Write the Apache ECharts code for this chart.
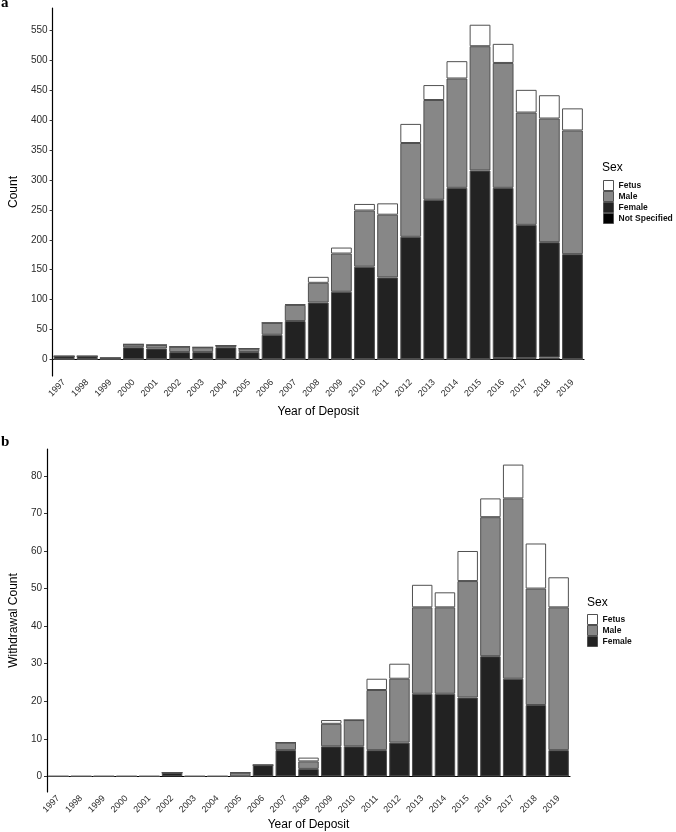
<!DOCTYPE html>
<html>
<head>
<meta charset="utf-8">
<script src="https://cdn.jsdelivr.net/npm/echarts@6/dist/echarts.min.js"></script>
<style>
html,body{margin:0;padding:0;background:#fff;}
#c{width:676px;height:832px;}
</style>
</head>
<body>
<div id="c"></div>
<script>
const years = ['1997','1998','1999','2000','2001','2002','2003','2004','2005','2006','2007','2008','2009','2010','2011','2012','2013','2014','2015','2016','2017','2018','2019'];

// Panel a: deposits by sex
const depNotSpecified = [0,0,0,0,0,0,0,0,0,0,0,0,0,0,0,0,0,0,0,2,2,3,0];
const depFemale = [5,5,2,20,18,12,12,20,12,41,64,95,113,155,137,205,267,287,316,285,223,193,176];
const depMale   = [0,0,0,5,6,9,8,3,6,20,27,33,64,94,105,157,167,183,208,209,188,207,207];
const depFetus  = [0,0,0,0,0,0,0,0,0,0,1,10,10,11,19,32,25,29,36,32,38,39,37];

// Panel b: withdrawals by sex
const wdFemale = [0,0,0,0,0,1,0,0,0,3,7,2,8,8,7,9,22,22,21,32,26,19,7];
const wdMale   = [0,0,0,0,0,0,0,0,1,0,2,2,6,7,16,17,23,23,31,37,48,31,38];
const wdFetus  = [0,0,0,0,0,0,0,0,0,0,0,1,1,0,3,4,6,4,8,5,9,12,8];

const depTicks = [0,50,100,150,200,250,300,350,400,450,500,550];
const wdTicks = [0,10,20,30,40,50,60,70,80];

const colors = {'Fetus':'#ffffff','Male':'#878787','Female':'#222222','Not Specified':'#000000'};
const border = '#505050';
const font = 'Liberation Sans, Arial, sans-serif';

function bar(name, data, idx, stack) {
  return {
    type:'bar', name:name, data:data, stack:stack,
    xAxisIndex:idx, yAxisIndex:idx,
    barCategoryGap:'10%',
    itemStyle:{color:colors[name], borderColor:border, borderWidth:1},
    emphasis:{disabled:true},
    animation:false
  };
}

function xAxis(idx, gap) {
  return {
    type:'category', gridIndex:idx, data:years,
    name:'Year of Deposit', nameLocation:'middle', nameGap:gap,
    nameTextStyle:{fontFamily:font, fontSize:12, color:'#000'},
    axisLine:{lineStyle:{color:'#000', width:1.2}},
    axisTick:{alignWithLabel:true, length:3, lineStyle:{color:'#333'}},
    axisLabel:{rotate:45, interval:0, fontFamily:font, fontSize:9, color:'#2a2a2a', margin:5}
  };
}

function yAxis(idx, min, max, ticks, name, gap) {
  return {
    type:'value', gridIndex:idx, min:min, max:max,
    name:name, nameLocation:'middle', nameGap:gap,
    nameTextStyle:{fontFamily:font, fontSize:12, color:'#000'},
    axisLine:{show:true, lineStyle:{color:'#000', width:1.2}},
    axisTick:{show:true, length:3, customValues:ticks, lineStyle:{color:'#333'}},
    axisLabel:{customValues:ticks, fontFamily:font, fontSize:10, color:'#2a2a2a', margin:5},
    splitLine:{show:false}
  };
}

const serif = 'Liberation Serif, Times New Roman, serif';
const chart = echarts.init(document.getElementById('c'), null, {renderer:'canvas'});
chart.setOption({
  backgroundColor:'#fff',
  animation:false,
  title:[
    {text:'a', left:1, top:-4, padding:0, textStyle:{fontFamily:serif, fontWeight:'bold', fontSize:15, color:'#000'}},
    {text:'b', left:1, top:435, padding:0, textStyle:{fontFamily:serif, fontWeight:'bold', fontSize:15, color:'#000'}},
    {text:'Sex', left:602, top:162, padding:0, textStyle:{fontFamily:font, fontWeight:'normal', fontSize:12, color:'#000'}},
    {text:'Sex', left:587, top:597, padding:0, textStyle:{fontFamily:font, fontWeight:'normal', fontSize:12, color:'#000'}}
  ],
  legend:[
    {data:['Fetus','Male','Female','Not Specified'], orient:'vertical', left:603, top:180, padding:0,
     itemWidth:10, itemHeight:10, itemGap:0, icon:'rect', selectedMode:false,
     itemStyle:{borderColor:border, borderWidth:1},
     textStyle:{fontFamily:font, fontSize:8.5, fontWeight:'bold', color:'#111', lineHeight:10}},
    {data:['Fetus','Male','Female'], orient:'vertical', left:587, top:614, padding:0,
     itemWidth:10, itemHeight:10, itemGap:0, icon:'rect', selectedMode:false,
     itemStyle:{borderColor:border, borderWidth:1},
     textStyle:{fontFamily:font, fontSize:8.5, fontWeight:'bold', color:'#111', lineHeight:10}}
  ],
  grid:[
    {left:43, right:92, top:8, bottom:456},
    {left:35, right:106, top:449, bottom:40}
  ],
  xAxis:[xAxis(0, 30), xAxis(1, 27)],
  yAxis:[
    yAxis(0, -28, 588, depTicks, 'Count', 24),
    yAxis(1, -4.15, 87.15, wdTicks, 'Withdrawal Count', 17)
  ],
  series:[
    bar('Not Specified', depNotSpecified, 0, 'a'),
    bar('Female', depFemale, 0, 'a'),
    bar('Male', depMale, 0, 'a'),
    bar('Fetus', depFetus, 0, 'a'),
    bar('Female', wdFemale, 1, 'b'),
    bar('Male', wdMale, 1, 'b'),
    bar('Fetus', wdFetus, 1, 'b')
  ]
});
</script>
</body>
</html>
